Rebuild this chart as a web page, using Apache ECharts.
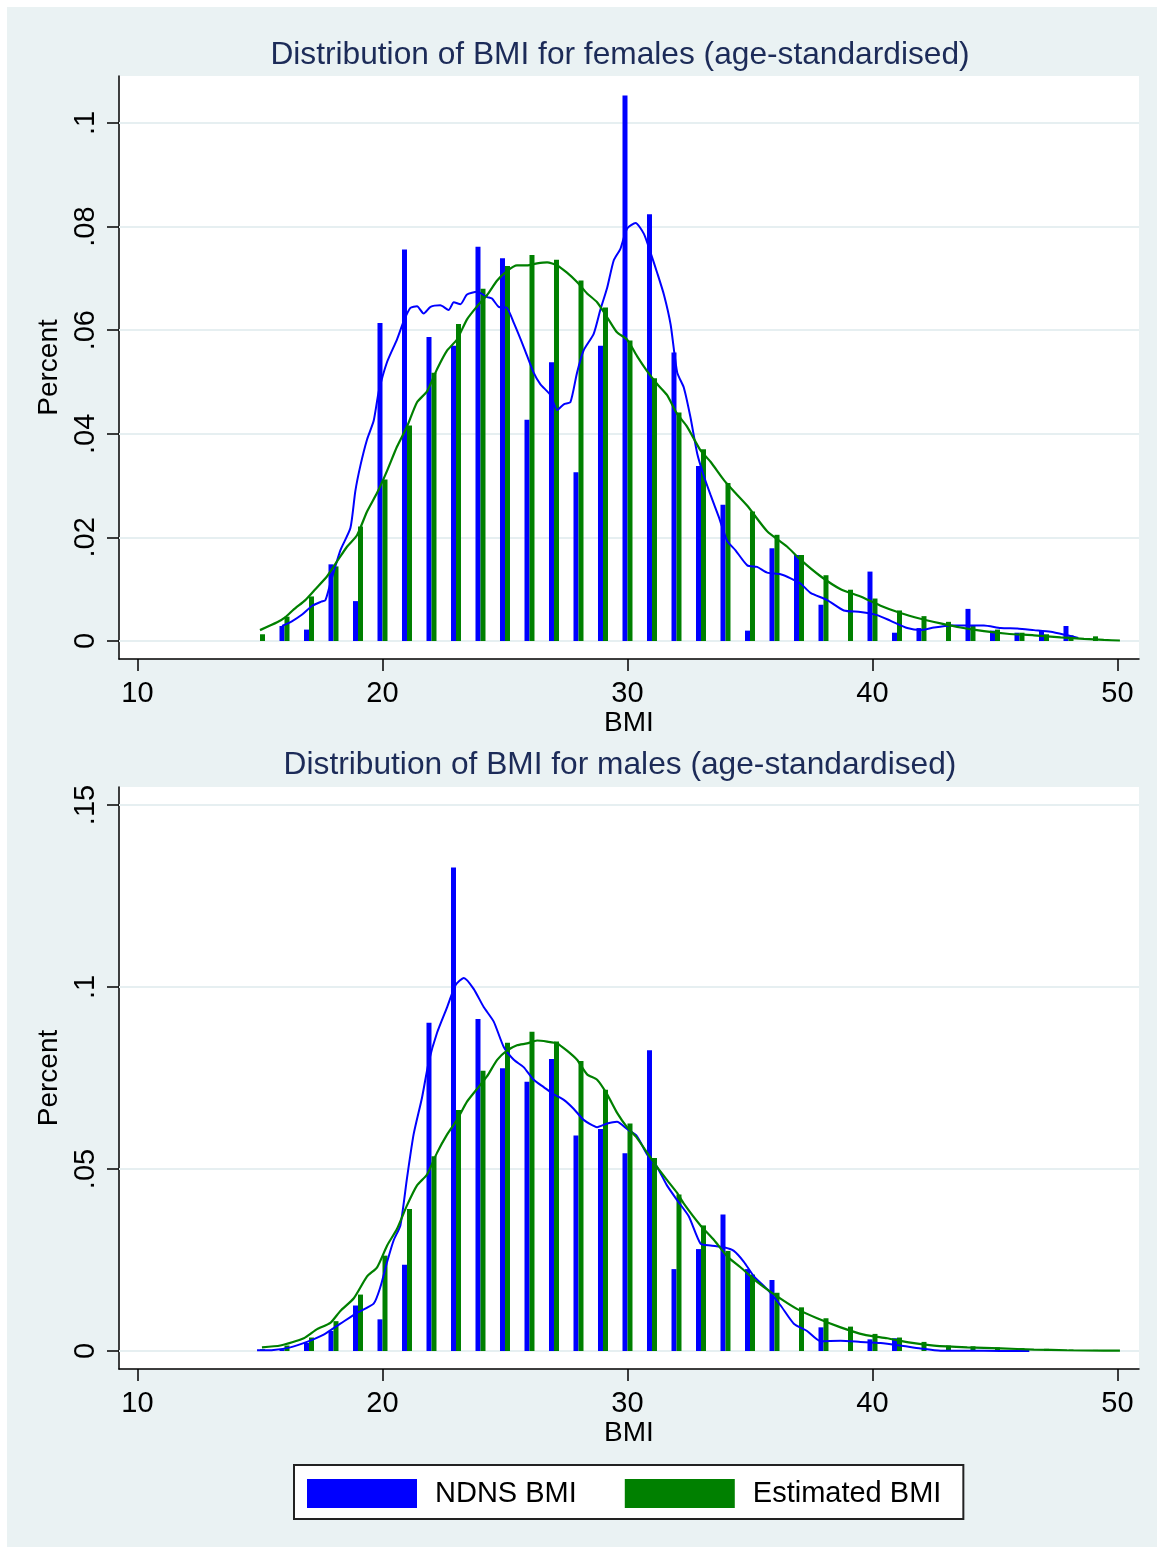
<!DOCTYPE html>
<html>
<head>
<meta charset="utf-8">
<script src="https://cdn.jsdelivr.net/npm/echarts@6.0.0/dist/echarts.min.js"></script>
<style>
html,body{margin:0;padding:0;background:#fff;}
#chart{width:1157px;height:1547px;}
</style>
</head>
<body>
<div id="chart"></div>
<script>
// ---------------- DATA ----------------
const bmiBins = [15,16,17,18,19,20,21,22,23,24,25,26,27,28,29,30,31,32,33,34,35,36,37,38,39,40,41,42,43,44,45,46,47,48,49];

const femaleNdnsBars = [0,0.0029,0.0022,0.0148,0.0077,0.0614,0.0756,0.0587,0.057,0.0761,0.0739,0.0427,0.0538,0.0326,0.057,0.1053,0.0824,0.0557,0.0338,0.0263,0.002,0.0179,0.0166,0.007,0,0.0134,0.0016,0.0025,0,0.0062,0.002,0.0016,0.002,0.0029,0];
const femaleEstBars = [0.0013,0.0047,0.0086,0.0144,0.0221,0.0312,0.0416,0.0518,0.0612,0.068,0.0724,0.0745,0.0736,0.0696,0.0644,0.058,0.0507,0.0441,0.037,0.0305,0.025,0.0205,0.0166,0.0127,0.0099,0.0082,0.0059,0.0048,0.0037,0.0029,0.0022,0.0016,0.0013,0.0011,0.0009];
const maleNdnsBars = [0,0.0005,0.0022,0.0055,0.0125,0.0087,0.0237,0.0902,0.1328,0.0912,0.0777,0.074,0.0802,0.0592,0.061,0.0543,0.0826,0.0225,0.028,0.0375,0.0225,0.0195,0,0.0065,0,0.0032,0.0035,0,0,0,0,0,0,0,0];
const maleEstBars = [0.0005,0.0015,0.0037,0.0082,0.0155,0.0262,0.039,0.0535,0.0662,0.077,0.0847,0.0877,0.085,0.0797,0.0718,0.0625,0.053,0.043,0.0345,0.0275,0.021,0.016,0.012,0.009,0.0067,0.0047,0.0037,0.0025,0.0015,0.0013,0.001,0.0008,0.0006,0.0004,0.0003];

const femaleNdnsKde = [[15.9,0.0029],[16.3,0.0038],[16.72,0.0051],[17.13,0.0068],[17.5,0.0076],[17.67,0.0079],[17.87,0.0111],[18.28,0.0175],[18.69,0.0218],[18.89,0.0289],[19.1,0.0339],[19.37,0.0389],[19.64,0.0425],[19.85,0.0482],[20.19,0.0539],[20.59,0.0582],[20.87,0.0618],[21.14,0.0643],[21.41,0.0646],[21.68,0.0632],[21.96,0.0645],[22.36,0.0648],[22.7,0.0639],[22.91,0.0654],[23.18,0.065],[23.45,0.0669],[23.86,0.0674],[24.27,0.0664],[24.47,0.0661],[24.74,0.0645],[25.08,0.0643],[25.36,0.0614],[25.76,0.0568],[26.17,0.0518],[26.44,0.0496],[26.85,0.0475],[27.13,0.0446],[27.4,0.0457],[27.67,0.0461],[27.94,0.0518],[28.21,0.0561],[28.62,0.0593],[28.89,0.0639],[29.17,0.0682],[29.44,0.0735],[29.71,0.0757],[29.98,0.0796],[30.33,0.0807],[30.67,0.0786],[30.94,0.075],[31.21,0.0711],[31.49,0.0668],[31.76,0.0611],[32.03,0.0518],[32.3,0.0489],[32.57,0.0432],[32.85,0.0361],[33.12,0.0318],[33.39,0.0282],[33.73,0.0239],[34.07,0.0193],[34.41,0.0175],[34.89,0.0146],[35.29,0.0143],[35.7,0.0132],[36.25,0.0129],[36.66,0.0121],[37.06,0.0111],[37.47,0.0093],[38.15,0.0079],[38.83,0.0059],[39.51,0.0056],[40.19,0.005],[40.74,0.0039],[41.42,0.0025],[41.96,0.0021],[42.51,0.0026],[43.19,0.003],[43.87,0.003],[44.55,0.003],[45.23,0.0025],[45.91,0.0024],[46.59,0.0021],[47.27,0.0018],[47.95,0.0011],[48.4,0.0006]];
const femaleEstKde = [[15.0,0.0021],[15.7,0.0036],[16.04,0.0046],[16.38,0.0061],[16.85,0.0079],[17.26,0.01],[17.74,0.0125],[18.15,0.0154],[18.55,0.0182],[18.96,0.0204],[19.37,0.025],[19.78,0.0286],[20.19,0.0329],[20.59,0.0375],[21.0,0.0414],[21.41,0.0461],[21.82,0.0482],[22.23,0.0525],[22.64,0.0561],[23.04,0.0582],[23.45,0.0621],[23.86,0.0646],[24.27,0.0668],[24.68,0.0696],[25.08,0.0714],[25.49,0.0725],[25.9,0.0725],[26.31,0.0729],[26.72,0.0731],[27.13,0.0725],[27.53,0.0711],[27.94,0.0693],[28.35,0.0671],[28.76,0.0654],[29.17,0.0625],[29.57,0.0596],[29.98,0.0582],[30.39,0.055],[30.8,0.0521],[31.21,0.0496],[31.61,0.0475],[32.02,0.0439],[32.43,0.0414],[32.98,0.0368],[33.39,0.0346],[33.93,0.0311],[34.34,0.0289],[34.89,0.0261],[35.7,0.0212],[36.52,0.0182],[37.06,0.0157],[37.88,0.0125],[38.7,0.01],[39.51,0.0086],[40.33,0.0068],[41.14,0.0054],[41.96,0.0043],[42.78,0.0034],[43.59,0.0026],[44.55,0.0019],[45.5,0.0014],[46.59,0.0011],[47.68,0.0007],[48.63,0.0004],[49.44,0.0002],[50.1,0.0001]];
const maleNdnsKde = [[14.88,0.0002],[15.56,0.0003],[16.24,0.001],[16.92,0.0025],[17.6,0.0045],[18.28,0.0075],[18.96,0.0105],[19.64,0.013],[19.91,0.0175],[20.19,0.0245],[20.46,0.0305],[20.73,0.0345],[21.0,0.0475],[21.27,0.0595],[21.61,0.0695],[21.89,0.0795],[22.23,0.0875],[22.64,0.0945],[22.98,0.1005],[23.32,0.1025],[23.72,0.0995],[24.13,0.0945],[24.54,0.0905],[24.95,0.0835],[25.36,0.08],[25.76,0.078],[26.17,0.0745],[26.58,0.0725],[26.99,0.0705],[27.4,0.069],[27.81,0.0665],[28.21,0.0635],[28.76,0.0615],[29.17,0.0625],[29.57,0.063],[29.98,0.061],[30.39,0.059],[30.8,0.054],[31.21,0.0505],[31.61,0.0455],[32.02,0.0415],[32.5,0.037],[32.98,0.0295],[33.39,0.029],[33.93,0.0285],[34.34,0.0275],[34.75,0.0245],[35.16,0.0205],[35.7,0.017],[36.25,0.0125],[36.79,0.0075],[37.33,0.0055],[37.88,0.0027],[38.7,0.0028],[39.51,0.0025],[40.33,0.0022],[41.14,0.0015],[41.96,0.0007],[42.78,0.0001],[43.87,0.0001],[45.23,0],[46.4,0]];
const maleEstKde = [[15.08,0.001],[15.83,0.0015],[16.79,0.0035],[17.33,0.006],[17.87,0.0077],[18.28,0.011],[18.83,0.0145],[19.37,0.0205],[19.78,0.023],[20.19,0.029],[20.59,0.0335],[21.0,0.04],[21.41,0.0455],[21.82,0.0485],[22.23,0.0545],[22.64,0.0595],[23.04,0.0635],[23.45,0.0685],[23.86,0.072],[24.27,0.0755],[24.68,0.08],[25.08,0.0825],[25.49,0.084],[25.9,0.0845],[26.31,0.0853],[26.72,0.085],[27.13,0.0845],[27.53,0.0825],[27.94,0.08],[28.35,0.076],[28.76,0.0745],[29.17,0.0705],[29.57,0.0655],[29.98,0.0615],[30.39,0.0585],[30.8,0.0545],[31.21,0.0505],[31.61,0.047],[32.02,0.0435],[32.3,0.0405],[32.98,0.0345],[33.53,0.0305],[34.07,0.026],[34.61,0.023],[35.29,0.019],[36.11,0.015],[36.93,0.0115],[37.74,0.009],[38.7,0.0065],[39.65,0.0045],[40.6,0.0035],[41.55,0.0023],[42.51,0.0015],[43.87,0.001],[45.23,0.0007],[46.59,0.0004],[47.95,0.0002],[49.44,0.0001],[50.1,0.0001]];

const xTicks = [10,20,30,40,50];
const femaleYTicks = [0,0.02,0.04,0.06,0.08,0.1];
const maleYTicks = [0,0.05,0.1,0.15];

const titles = ['Distribution of BMI for females (age-standardised)','Distribution of BMI for males (age-standardised)'];
const seriesNames = ['NDNS BMI','Estimated BMI'];

// ---------------- STYLE ----------------
const BLUE = '#0000ff', GREEN = '#008000';
const FONT = '"Liberation Sans", Arial, Helvetica, sans-serif';
const TITLE_COLOR = '#1c2b58';
const GRIDLINE = '#e6eff1';

function pairs(xs, ys){ const out=[]; xs.forEach((x,i)=>{ if(ys[i]>0) out.push([x, ys[i]]); }); return out; }
function yFmt(v){ if (Math.abs(v) < 1e-9) return '0'; return String(+v.toFixed(4)).replace(/^0\./,'.'); }

function xAxisCfg(idx){
  return {
    type:'value', gridIndex: idx, min: 9.245, max: 50.878,
    name:'BMI', nameLocation:'middle', nameGap:47,
    nameTextStyle:{fontFamily:FONT, fontSize:28, color:'#000'},
    axisLine:{show:true, onZero:false, lineStyle:{color:'#000', width:1.5}},
    axisTick:{show:true, customValues:xTicks, length:12, lineStyle:{color:'#000', width:1.5}},
    axisLabel:{customValues:xTicks, margin:20, fontFamily:FONT, fontSize:29, color:'#000'},
    splitLine:{show:false}
  };
}
function yAxisCfg(idx, min, max, ticks){
  return {
    type:'value', gridIndex: idx, min:min, max:max,
    name:'Percent', nameLocation:'middle', nameGap:50,
    nameTextStyle:{fontFamily:FONT, fontSize:28, color:'#000'},
    axisLine:{show:true, onZero:false, lineStyle:{color:'#000', width:1.5}},
    axisTick:{show:true, customValues:ticks, length:12, lineStyle:{color:'#000', width:1.5}},
    axisLabel:{customValues:ticks, rotate:90, margin:19, fontFamily:FONT, fontSize:29, color:'#000', formatter:yFmt},
    splitLine:{show:false}
  };
}
function gridMarkLine(ticks){
  return {
    silent:true, symbol:['none','none'], z:1,
    label:{show:false},
    lineStyle:{color:GRIDLINE, type:'solid', width:2},
    emphasis:{disabled:true},
    data: ticks.map(v=>({yAxis:v}))
  };
}
function barSeries(name, color, idx, data, ticks){
  const s = {
    name:name, type:'bar', xAxisIndex:idx, yAxisIndex:idx,
    barWidth:5, barGap:'0%', data:data, z:2,
    itemStyle:{color:color}, silent:true, animation:false
  };
  if (ticks) s.markLine = gridMarkLine(ticks);
  return s;
}
function lineSeries(name, color, idx, data, w){
  return {
    name:name, type:'line', xAxisIndex:idx, yAxisIndex:idx, data:data, z:3,
    showSymbol:false, symbol:'none', smooth:0.2,
    lineStyle:{color:color, width:w}, itemStyle:{color:color},
    silent:true, animation:false
  };
}

const chart = echarts.init(document.getElementById('chart'), null, {renderer:'canvas'});
chart.setOption({
  animation:false,
  backgroundColor:'#eaf2f3',
  textStyle:{fontFamily:FONT},
  graphic:[
    {type:'rect', shape:{x:0,y:0,width:1157,height:7}, style:{fill:'#fff'}, silent:true},
    {type:'rect', shape:{x:0,y:0,width:7,height:1547}, style:{fill:'#fff'}, silent:true}
  ],
  title:[
    {text:titles[0], left:620, top:39, textAlign:'center', padding:0,
     textStyle:{fontFamily:FONT, fontSize:31.7, fontWeight:'normal', color:TITLE_COLOR}},
    {text:titles[1], left:620, top:749, textAlign:'center', padding:0,
     textStyle:{fontFamily:FONT, fontSize:31.7, fontWeight:'normal', color:TITLE_COLOR}}
  ],
  legend:{
    left:294, top:1465, orient:'horizontal',
    padding:[14,22,11,13], itemGap:48, itemWidth:110, itemHeight:29,
    backgroundColor:'#fff', borderColor:'#222', borderWidth:2, borderRadius:0,
    icon:'rect',
    textStyle:{fontFamily:FONT, fontSize:29, color:'#000', padding:[0,0,0,13]},
    data:[{name:seriesNames[0], itemStyle:{color:BLUE}}, {name:seriesNames[1], itemStyle:{color:GREEN}}],
    selectedMode:false
  },
  grid:[
    {left:119, top:76, width:1020, height:583, show:true, backgroundColor:'#fff', borderWidth:0, containLabel:false},
    {left:119, top:787, width:1020, height:582, show:true, backgroundColor:'#fff', borderWidth:0, containLabel:false}
  ],
  xAxis:[xAxisCfg(0), xAxisCfg(1)],
  yAxis:[yAxisCfg(0, -0.003475, 0.10907, femaleYTicks), yAxisCfg(1, -0.004945, 0.15495, maleYTicks)],
  series:[
    barSeries(seriesNames[0], BLUE, 0, pairs(bmiBins, femaleNdnsBars), femaleYTicks),
    barSeries(seriesNames[1], GREEN, 0, pairs(bmiBins, femaleEstBars)),
    barSeries(seriesNames[0], BLUE, 1, pairs(bmiBins, maleNdnsBars), maleYTicks),
    barSeries(seriesNames[1], GREEN, 1, pairs(bmiBins, maleEstBars)),
    lineSeries(seriesNames[0], BLUE, 0, femaleNdnsKde, 2),
    lineSeries(seriesNames[1], GREEN, 0, femaleEstKde, 2.2),
    lineSeries(seriesNames[0], BLUE, 1, maleNdnsKde, 2),
    lineSeries(seriesNames[1], GREEN, 1, maleEstKde, 2.2)
  ]
});
</script>
</body>
</html>
